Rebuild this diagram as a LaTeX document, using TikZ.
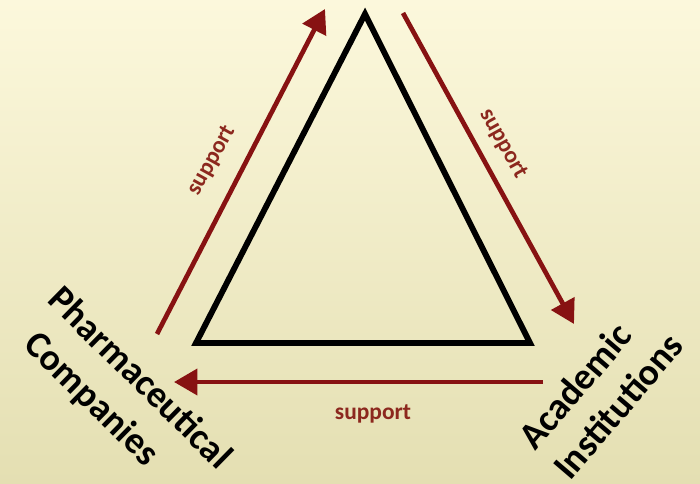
\documentclass[tikz,border=0pt]{standalone}
\usepackage{fontspec}
\setmainfont{Carlito}
\usetikzlibrary{arrows.meta}
\definecolor{bgtop}{RGB}{252,248,220}
\definecolor{bgbot}{RGB}{228,223,178}
\definecolor{arrowred}{RGB}{135,18,18}
\definecolor{labred}{RGB}{140,40,30}
\tikzset{
  redarrow/.style={draw=arrowred, line width=4pt, -{Triangle[length=20pt,width=22pt]}},
  supportlabel/.style={text=labred, font=\fontsize{20}{24}\selectfont\bfseries, inner sep=0pt},
  biglabel/.style={text=black, font=\fontsize{32}{37}\selectfont\bfseries, inner sep=0pt},
  tri/.style={draw=black, line width=5pt, line join=miter}
}
\begin{document}
\begin{tikzpicture}[x=0.03cm, y=-0.03cm]
\useasboundingbox (0,0) rectangle (700,484);
\shade[top color=bgtop, bottom color=bgbot] (0,0) rectangle (700,484);
% triangle
\coordinate (apex) at (365,14);
\coordinate (bl) at (196,343);
\coordinate (br) at (530,343);
\draw[tri] (apex) -- (br) -- (bl) -- cycle;
% arrows
\coordinate (ls) at (157,334);
\coordinate (le) at (325,9);
\coordinate (rs) at (403,13);
\coordinate (re) at (574,324);
\coordinate (bs) at (543,382);
\coordinate (be) at (174,382);
\draw[redarrow] (ls) -- (le);
\draw[redarrow] (rs) -- (re);
\draw[redarrow] (bs) -- (be);
% support labels
\node[supportlabel, rotate=61] (sl) at (212,161) {support};
\node[supportlabel, rotate=-61] (sr) at (503,144) {support};
\node[supportlabel] (sb) at (373,414) {support};
% big labels
\node[biglabel, rotate=-44.5] (ph) at (141,377) {Pharmaceutical};
\node[biglabel, rotate=-44.5] (co) at (91,400) {Companies};
\node[biglabel, rotate=49.5] (ac) at (575,386) {Academic};
\node[biglabel, rotate=49.5] (in) at (618,406) {Institutions};
\end{tikzpicture}
\end{document}
